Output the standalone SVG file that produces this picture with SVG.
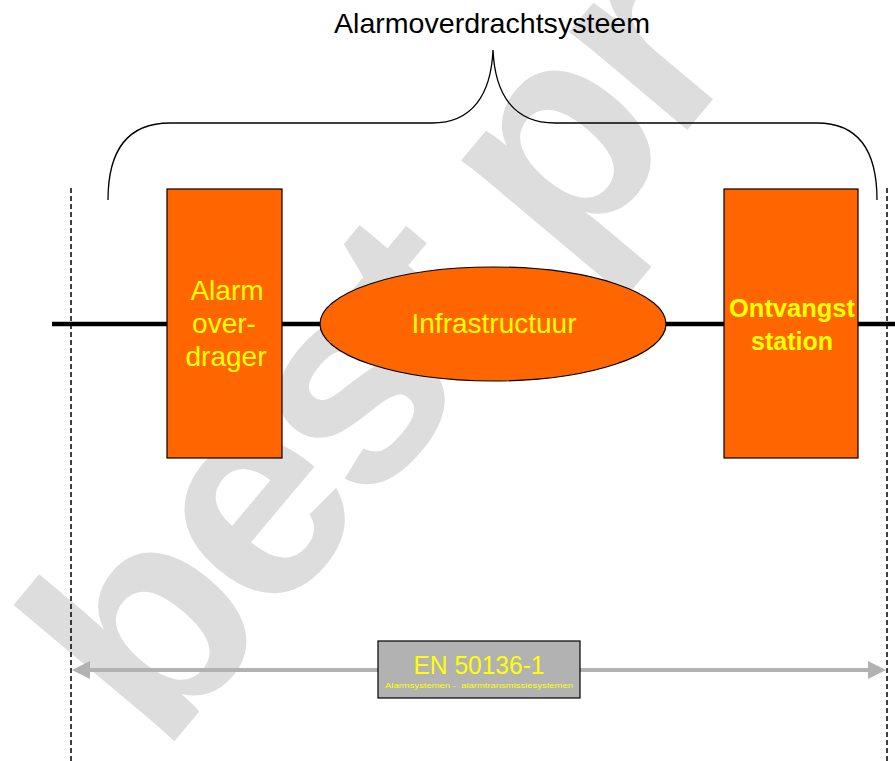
<svg xmlns="http://www.w3.org/2000/svg" width="895" height="761" viewBox="0 0 895 761">
<style>
.wm{font-family:"Liberation Sans",Arial,sans-serif;font-weight:bold;font-size:291px;fill:#dddddd;letter-spacing:-10px}
.box{fill:#ff6600;stroke:#000;stroke-width:1.2}
.lbl{font-family:"Liberation Sans",Arial,sans-serif;fill:#ffff00;text-anchor:middle}
.dash{stroke:#000;stroke-width:1.5;stroke-dasharray:5 3;fill:none}
.brace{fill:none;stroke:#000;stroke-width:1.3}
.bus{stroke:#000;stroke-width:4.5;fill:none}
.dim{stroke:#b2b2b2;stroke-width:4;fill:none}
</style>
<defs>
<marker id="ah" viewBox="0 0 18 18" refX="2" refY="9" markerWidth="18" markerHeight="18" markerUnits="userSpaceOnUse" orient="auto-start-reverse">
<path d="M0,0 L18,9 L0,18 z" fill="#b2b2b2"/>
</marker>
</defs>
<rect width="895" height="761" fill="#fff"/>
<g id="watermark">
<text class="wm" transform="translate(162,756) rotate(-50)">best pr</text>
</g>
<g id="title">
<text x="492" y="33" font-family="'Liberation Sans',Arial,sans-serif" font-size="28" text-anchor="middle" textLength="316" lengthAdjust="spacingAndGlyphs" fill="#000">Alarmoverdrachtsysteem</text>
<path class="brace" d="M108,200 C108,150 128,123 170,123 L432,123 C472,123 491,95 493,50 C495,95 514,123 555,123 L817,123 C858,123 877,150 877,200"/>
</g>
<g id="connectors">
<line class="dash" x1="71" y1="188" x2="71" y2="761"/>
<line class="dash" x1="887" y1="188" x2="887" y2="761"/>
<line class="bus" x1="52" y1="324" x2="895" y2="324"/>
<line class="dim" x1="88" y1="670" x2="870" y2="670" marker-start="url(#ah)" marker-end="url(#ah)"/>
</g>
<g id="alarmoverdrager">
<rect class="box" x="167" y="189" width="115" height="269"/>
<text class="lbl" x="227" y="300" font-size="28">Alarm</text>
<text class="lbl" x="224" y="333" font-size="28">over-</text>
<text class="lbl" x="226" y="366" font-size="28">drager</text>
</g>
<g id="infrastructuur">
<ellipse class="box" cx="493" cy="324" rx="173" ry="57"/>
<text class="lbl" x="494" y="333" font-size="28">Infrastructuur</text>
</g>
<g id="ontvangststation">
<rect class="box" x="724" y="189" width="134" height="269"/>
<text class="lbl" x="792" y="317" font-size="25" font-weight="bold" textLength="126" lengthAdjust="spacingAndGlyphs">Ontvangst</text>
<text class="lbl" x="792" y="350" font-size="25" font-weight="bold">station</text>
</g>
<g id="en50136">
<rect x="378" y="641" width="202" height="57" fill="#b2b2b2" stroke="#000" stroke-width="1.2"/>
<text class="lbl" x="479" y="674" font-size="26" textLength="131" lengthAdjust="spacingAndGlyphs">EN 50136-1</text>
<text class="lbl" x="479" y="688" font-size="8" xml:space="preserve" textLength="188" lengthAdjust="spacingAndGlyphs">Alarmsystemen -  alarmtransmissiesystemen</text>
</g>
</svg>
